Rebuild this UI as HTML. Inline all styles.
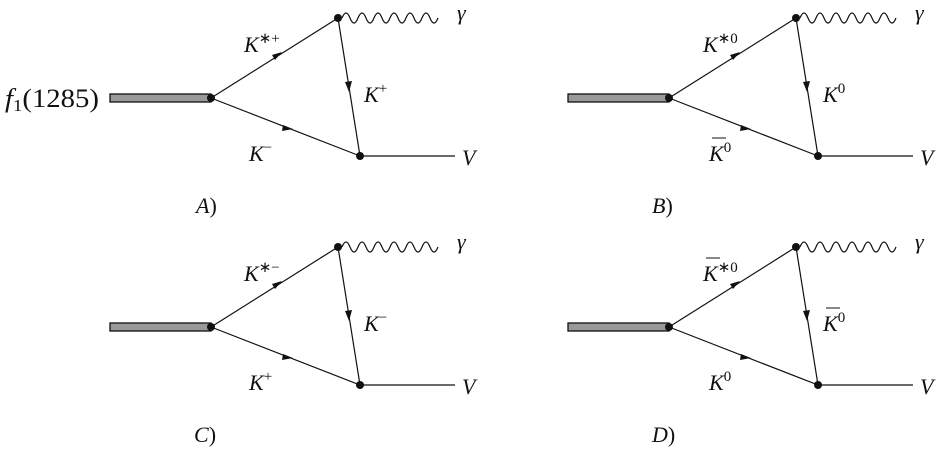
<!DOCTYPE html>
<html><head><meta charset="utf-8"><style>
html,body{margin:0;padding:0;background:#fff}
svg{display:block}
text{font-family:"Liberation Serif",serif;font-style:italic;fill:#111}
.u{font-style:normal}
</style></head><body>
<svg width="945" height="449" viewBox="0 0 945 449" xmlns="http://www.w3.org/2000/svg">
<defs>
<g id="d">
  <rect x="110" y="94" width="101" height="8" fill="#999" stroke="#111" stroke-width="1.3"/>
  <line x1="211" y1="98" x2="338" y2="18" stroke="#111" stroke-width="1.2"/>
  <line x1="211" y1="98" x2="360" y2="156" stroke="#111" stroke-width="1.2"/>
  <line x1="338" y1="18" x2="360" y2="156" stroke="#111" stroke-width="1.2"/>
  <line x1="360" y1="156" x2="455" y2="156" stroke="#111" stroke-width="1.2"/>
  <path d="M342 18 q4 -10 8 0 t8 0 t8 0 t8 0 t8 0 t8 0 t8 0 t8 0 t8 0 t8 0 t8 0 t8 0" fill="none" stroke="#111" stroke-width="1.2"/>
  <polygon points="282,52 272,55 275,60" fill="#111"/>
  <polygon points="293,129 283,125 282,131" fill="#111"/>
  <polygon points="349,92 345,82 352,81" fill="#111"/>
  <circle cx="211" cy="98" r="4" fill="#111"/>
  <circle cx="338" cy="18" r="4" fill="#111"/>
  <circle cx="360" cy="156" r="4" fill="#111"/>
  <text x="457" y="20" font-size="22">γ</text>
  <text x="462" y="165" font-size="22">V</text>
</g>
</defs>
<use href="#d"/>
<use href="#d" transform="translate(458,0)"/>
<use href="#d" transform="translate(0,229)"/>
<use href="#d" transform="translate(458,229)"/>

<text x="5" y="107" font-size="26" textLength="94" lengthAdjust="spacingAndGlyphs">f<tspan font-size="17" dy="4" class="u">1</tspan><tspan dy="-4" class="u">(1285)</tspan></text>

<!-- A -->
<text x="244" y="52" font-size="22">K<tspan font-size="15" dy="-9" class="u">∗+</tspan></text>
<text x="364" y="102" font-size="22">K<tspan font-size="15" dy="-9" class="u">+</tspan></text>
<text x="249" y="161" font-size="22">K<tspan font-size="15" dy="-9" class="u">−</tspan></text>
<text x="196" y="213" font-size="22">A<tspan class="u">)</tspan></text>

<!-- B -->
<text x="703" y="52" font-size="22">K<tspan font-size="15" dy="-9" class="u">∗0</tspan></text>
<text x="823" y="102" font-size="22">K<tspan font-size="15" dy="-9" class="u">0</tspan></text>
<text x="709" y="161" font-size="22">K<tspan font-size="15" dy="-9" class="u">0</tspan></text>
<line x1="712" y1="138" x2="726" y2="138" stroke="#111" stroke-width="1"/>
<text x="652" y="213" font-size="22">B<tspan class="u">)</tspan></text>

<!-- C -->
<text x="244" y="281" font-size="22">K<tspan font-size="15" dy="-9" class="u">∗−</tspan></text>
<text x="364" y="331" font-size="22">K<tspan font-size="15" dy="-9" class="u">−</tspan></text>
<text x="249" y="390" font-size="22">K<tspan font-size="15" dy="-9" class="u">+</tspan></text>
<text x="194" y="442" font-size="22">C<tspan class="u">)</tspan></text>

<!-- D -->
<text x="703" y="281" font-size="22">K<tspan font-size="15" dy="-9" class="u">∗0</tspan></text>
<line x1="706" y1="258" x2="720" y2="258" stroke="#111" stroke-width="1"/>
<text x="823" y="331" font-size="22">K<tspan font-size="15" dy="-9" class="u">0</tspan></text>
<line x1="826" y1="308" x2="840" y2="308" stroke="#111" stroke-width="1"/>
<text x="709" y="390" font-size="22">K<tspan font-size="15" dy="-9" class="u">0</tspan></text>
<text x="652" y="442" font-size="22">D<tspan class="u">)</tspan></text>
</svg>
</body></html>
